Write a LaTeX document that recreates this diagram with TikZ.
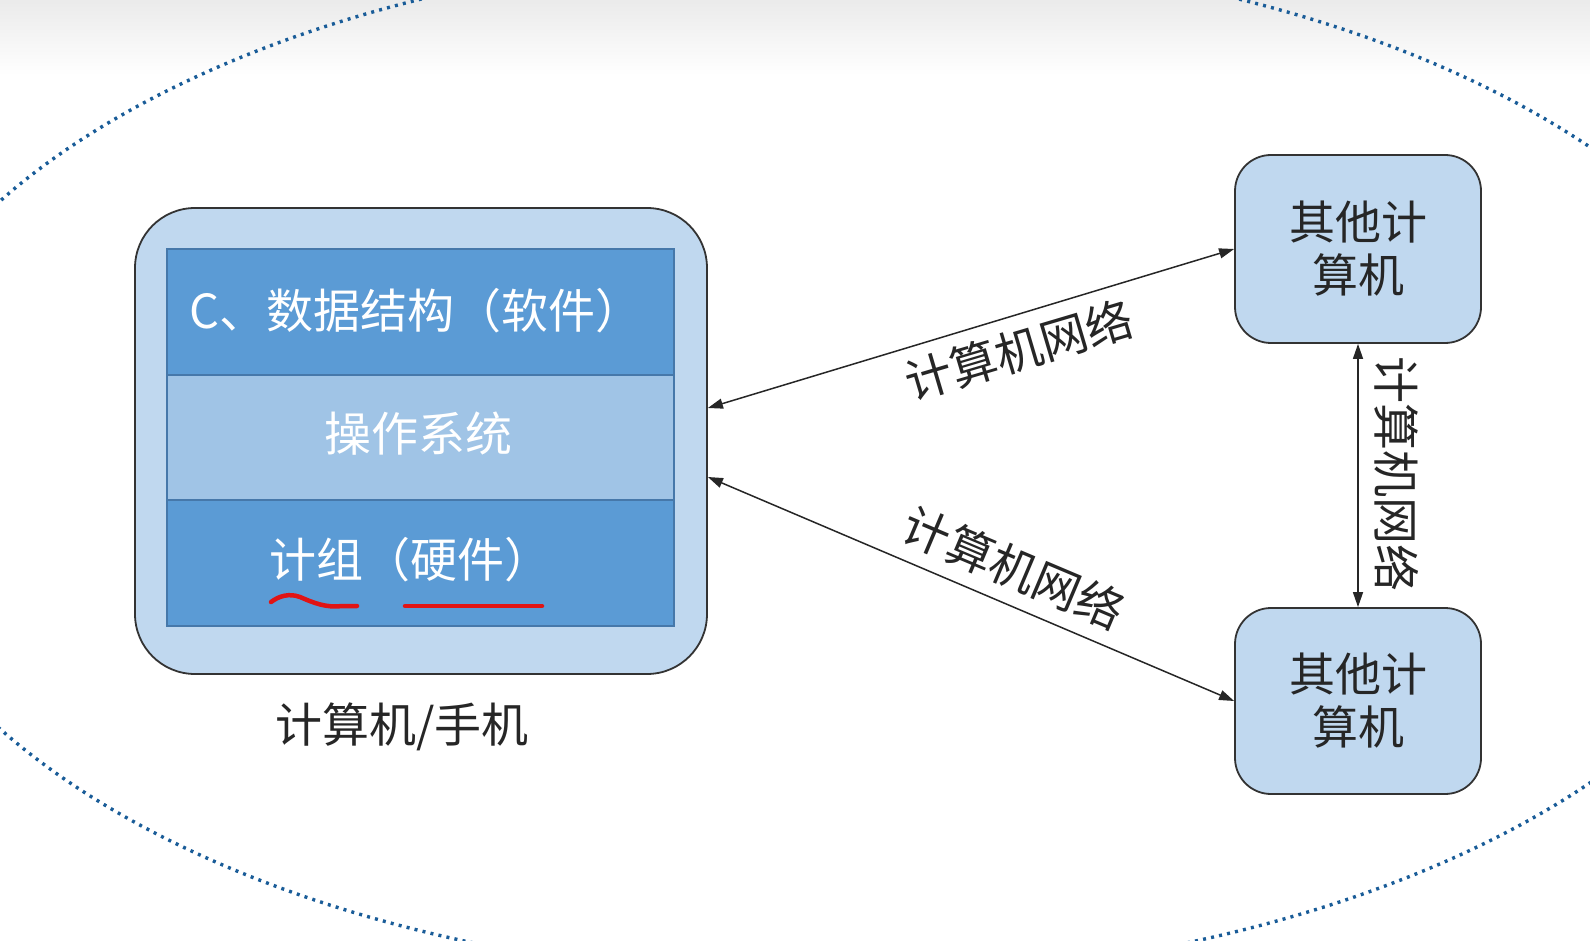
\documentclass[tikz,border=0pt]{standalone}
\usepackage{fontspec}
\newfontfamily\cjk{Noto Sans CJK SC}
\usetikzlibrary{arrows.meta}
\definecolor{outerblue}{RGB}{192,216,239}
\definecolor{darkblue}{RGB}{91,155,213}
\definecolor{midblue}{RGB}{160,196,230}
\definecolor{stripline}{RGB}{70,120,170}
\definecolor{dotblue}{RGB}{25,92,152}
\definecolor{penred}{RGB}{225,20,20}
\begin{document}
\begin{tikzpicture}[x=1pt,y=-1pt,
  bigbox/.style={draw=black!80, line width=1.8pt, fill=outerblue, rounded corners=60pt, minimum width=572pt, minimum height=466pt, inner sep=0pt},
  strip/.style={draw=stripline, line width=1.2pt, minimum width=507pt, inner sep=0pt},
  otherbox/.style={draw=black!80, line width=1.8pt, fill=outerblue, rounded corners=36pt, minimum width=246pt, minimum height=188pt, align=center, font=\cjk\fontsize{46}{53}\selectfont, text=black!85},
  striptext/.style={text=white, font=\cjk\fontsize{47}{53}\selectfont, inner sep=0pt},
  lbl/.style={font=\cjk\fontsize{47}{53}\selectfont, text=black!85, inner sep=0pt},
  link/.style={line width=1.5pt, black!85, {Triangle[length=15pt,width=10pt]}-{Triangle[length=15pt,width=10pt]}},
  pen/.style={draw=penred, line width=4.5pt, line cap=round, line join=round}
]
\useasboundingbox (0,0) rectangle (1590,941);
\fill[white] (0,0) rectangle (1590,941);
\shade[top color=black!8, bottom color=white] (0,0) rectangle (1590,75);

% dotted ellipse
\draw[dotblue, line width=3.4pt, dash pattern=on 3pt off 5.2pt] (830,465) ellipse [x radius=967, y radius=514];

% computer box
\node[bigbox] (pc) at (421,441) {};
\node[strip, fill=darkblue, minimum height=126pt] (s1) at (420.5,312) {};
\node[strip, fill=midblue, minimum height=125pt] (s2) at (420.5,437.5) {};
\node[strip, fill=darkblue, minimum height=126pt] (s3) at (420.5,563) {};
\node[striptext, anchor=west] (t1) at (189,311) {C、数据结构（软件）};
\node[striptext] (t2) at (418,434) {操作系统};
\node[striptext] (t3) at (410,560) {计组（硬件）};

% red pen marks
\draw[pen] (271,602) .. controls (279,596) and (289,593) .. (300,597) .. controls (314,603) and (326,608) .. (342,606) -- (357,606);
\draw[pen] (405,606) -- (542,606);

\node[lbl] (pclabel) at (402,727) {计算机/手机};

% other computers
\node[otherbox] (o1) at (1358,249) {其他计\\算机};
\node[otherbox, minimum height=186pt] (o2) at (1358,701) {其他计\\算机};

% links
\draw[link] ([yshift=33pt]pc.east) -- (o1.west);
\draw[link] ([yshift=-36pt]pc.east) -- (o2.west);
\draw[link] (o1.south) -- (o2.north);

\node[lbl, rotate=16.5] (l1) at (1019,350) {计算机网络};
\node[lbl, rotate=-22.9] (l2) at (1014,568) {计算机网络};
\node[lbl, rotate=-90] (l3) at (1397,474) {计算机网络};
\end{tikzpicture}
\end{document}
